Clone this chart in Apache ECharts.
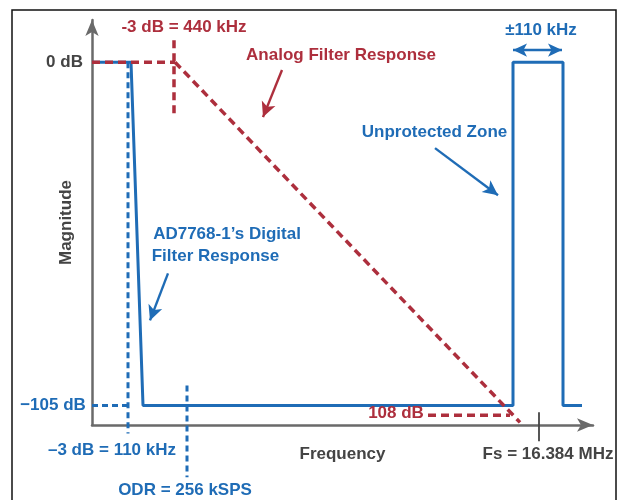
<!DOCTYPE html>
<html>
<head>
<meta charset="utf-8">
<script src="https://cdn.jsdelivr.net/npm/echarts@6/dist/echarts.min.js"></script>
<style>
html,body{margin:0;padding:0;background:#fff;}
#c{width:623px;height:500px;}
</style>
</head>
<body>
<div id="c"></div>
<script>
// ---- data (x: schematic frequency units, y: magnitude in dB) ----
const digitalResponse = [[0,0],[7.8,0],[10.2,-105],[84.2,-105],[84.2,0],[94.2,0],[94.2,-105],[98,-105]];
const analogFlat = [[0,0],[16.6,0]];
const analogSlope = [[16.6,0],[85.6,-110.2]];
const analogMarker440 = [[16.4,6.7],[16.4,-16.8]];
const atten108 = [[67.2,-108],[83.6,-108]];
const marker110V = [[7.2,0],[7.2,-113.6]];
const marker105H = [[0,-105],[7.2,-105]];
const markerODR = [[19.0,-98.9],[19.0,-127]];
const fsTick = [[89.4,-107.1],[89.4,-116]];
const arrowsRed = [[[38.0,-2.4],[34.2,-16.8]]];
const arrowsBlue = [[[68.6,-26.3],[81.2,-40.7]],[[15.2,-64.6],[11.6,-79.0]]];
const doubleArrow = [[84.2,3.7],[94.0,3.7]];
const labelsRed = [["-3 dB = 440 kHz",18.4,10.7],["Analog Filter Response",49.8,2.1],["108 dB",60.8,-107.4]];
const labelsBlue = [["AD7768-1\u2019s Digital",27.0,-52.6],["Filter Response",24.7,-59.4],["Unprotected Zone",68.5,-21.4],["\u00b1110 kHz",89.8,9.8],["\u20133 dB = 110 kHz",4.0,-118.8],["ODR = 256 kSPS",18.6,-131],["\u2212105 dB",-7.8,-105]];
const labelsGray = [["0 dB",-5.5,0],["Fs = 16.384 MHz",91.2,-120]];

const RED = '#ad2f3d', BLUE = '#1f6cb6', AXIS = '#6a6a6a', TXT = '#444444';
const FONT = '"Liberation Sans", Arial, sans-serif';
const FS = 17;

function lineS(data, color, width, type, z) {
  return {type:'line', data, symbol:'none', clip:false, silent:true, z:z||2,
    lineStyle:{color, width, type:type||'solid', cap:'butt'}};
}
function labelS(list, color) {
  return {type:'scatter', clip:false, silent:true, symbolSize:0, z:5,
    itemStyle:{opacity:1},
    data: list.map(l => ({value:[l[1],l[2]], name:l[0]})),
    label:{show:true, position:'inside', formatter:p=>p.name, color, opacity:1,
      fontFamily:FONT, fontWeight:'bold', fontSize:FS}};
}
function arrowS(list, color) {
  return {type:'line', data:[], silent:true,
    markLine:{silent:true, symbol:['none','arrow'], symbolSize:[11,15], label:{show:false},
      lineStyle:{color, width:2.4, type:'solid'},
      data: list.map(seg => [{coord:seg[0]},{coord:seg[1]}])}};
}

const chart = echarts.init(document.getElementById('c'));
chart.setOption({
  backgroundColor:'#fff',
  animation:false,
  graphic:[{type:'rect', shape:{x:12,y:10,width:604,height:505}, style:{fill:'none', stroke:'#111', lineWidth:1.5}, z:-1}],
  grid:{left:92, top:20, width:501, bottom:75},
  xAxis:{type:'value', min:0, max:100.2, name:'Frequency', nameLocation:'middle', nameGap:21,
    nameTextStyle:{color:TXT, fontFamily:FONT, fontWeight:'bold', fontSize:FS},
    axisLine:{show:true, onZero:false, lineStyle:{color:AXIS, width:2.5}, symbol:['none','arrow'], symbolSize:[10,16]},
    axisTick:{show:false}, axisLabel:{show:false}, splitLine:{show:false}},
  yAxis:{type:'value', min:-111, max:12.9, name:'Magnitude', nameLocation:'middle', nameGap:17,
    nameTextStyle:{color:TXT, fontFamily:FONT, fontWeight:'bold', fontSize:FS},
    axisLine:{show:true, onZero:false, lineStyle:{color:AXIS, width:2.5}, symbol:['none','arrow'], symbolSize:[10,16]},
    axisTick:{show:false}, axisLabel:{show:false}, splitLine:{show:false}},
  series:[
    lineS(digitalResponse, BLUE, 3, 'solid', 2),
    lineS(marker110V, BLUE, 3, [6,4], 3),
    lineS(marker105H, BLUE, 3, [6,4], 3),
    lineS(markerODR, BLUE, 3, [6,4], 3),
    lineS(analogFlat, RED, 3.5, [8,5], 4),
    lineS(analogMarker440, RED, 3.5, [8,5], 4),
    lineS(analogSlope, RED, 3.5, [8,5], 4),
    lineS(atten108, RED, 3.5, [8,5], 4),
    lineS(fsTick, TXT, 1.8, 'solid', 4),
    arrowS(arrowsRed, RED),
    arrowS(arrowsBlue, BLUE),
    {type:'line', data:[], silent:true,
      markLine:{silent:true, symbol:['arrow','arrow'], symbolSize:[10,14], label:{show:false},
        lineStyle:{color:BLUE, width:2.4, type:'solid'},
        data:[[{coord:doubleArrow[0]},{coord:doubleArrow[1]}]]}},
    labelS(labelsRed, RED),
    labelS(labelsBlue, BLUE),
    labelS(labelsGray, TXT)
  ]
});
</script>
</body>
</html>
